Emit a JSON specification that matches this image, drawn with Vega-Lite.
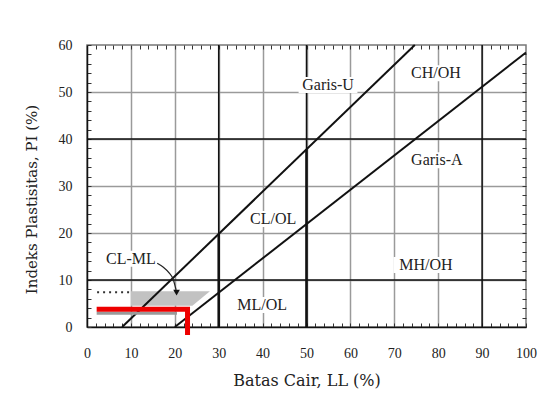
{
  "$schema": "https://vega.github.io/schema/vega-lite/v6.json",
  "width": 439,
  "height": 282,
  "autosize": {"type": "none"},
  "padding": {"left": 87, "top": 45, "right": 16, "bottom": 76},
  "background": "white",
  "config": {
    "view": {"stroke": "#777", "strokeWidth": 1.5},
    "axis": {"labelFont": "Liberation Serif", "labelFontSize": 14, "labelColor": "#222", "labelFlush": false, "titleFont": "DejaVu Serif", "titleColor": "#222", "titleFontWeight": "normal", "tickColor": "#333", "domainColor": "#111"}
  },
  "datasets": {
    "guides": [
      {"line": "Garis-U", "LL": 8, "PI": 0},
      {"line": "Garis-U", "LL": 74.67, "PI": 60},
      {"line": "Garis-A", "LL": 20, "PI": 0},
      {"line": "Garis-A", "LL": 100, "PI": 58.4}
    ],
    "blackV": [{"LL": 30}, {"LL": 50}, {"LL": 90}],
    "blackH": [{"PI": 10}, {"PI": 40}],
    "thick": [
      {"LL": 30, "PI0": 0, "PI1": 19.8},
      {"LL": 50, "PI0": 0, "PI1": 37.8}
    ],
    "shade": [
      {"PI": 4.5, "LLa": 10, "LLb": 24},
      {"PI": 7.6, "LLa": 10, "LLb": 28}
    ],
    "dotted": [{"LL0": 2.3, "LL1": 9.8, "PI": 7.4}],
    "shadow": [{"LL0": 2.2, "LL1": 20.5, "PI": 2.9}],
    "red": [
      {"step": 1, "LL": 2.2, "PI": 3.8},
      {"step": 2, "LL": 22.9, "PI": 3.8},
      {"step": 3, "LL": 22.9, "PI": -1.7}
    ],
    "leader": [
      {"LL": 16.0, "PI": 13.55},
      {"LL": 17.4, "PI": 12.7},
      {"LL": 18.8, "PI": 11.4},
      {"LL": 19.7, "PI": 10.0},
      {"LL": 20.1, "PI": 8.6},
      {"LL": 20.3, "PI": 7.9}
    ],
    "arrow": [{"LL": 20.4, "PI": 7.3}],
    "labels": [
      {"text": "Garis-U", "LL": 54.9, "PI": 51.5, "x0": 48.2, "x1": 61.6, "y0": 49.8, "y1": 53.2},
      {"text": "CH/OH", "LL": 79.5, "PI": 54, "x0": 72.5, "x1": 86.4, "y0": 52.3, "y1": 55.7},
      {"text": "Garis-A", "LL": 79.7, "PI": 35.5, "x0": 72.8, "x1": 86.7, "y0": 33.8, "y1": 37.2},
      {"text": "CL/OL", "LL": 42.4, "PI": 23, "x0": 36.4, "x1": 48.4, "y0": 21.3, "y1": 24.7},
      {"text": "ML/OL", "LL": 39.9, "PI": 4.7, "x0": 33, "x1": 46.8, "y0": 3, "y1": 6.4},
      {"text": "MH/OH", "LL": 77.2, "PI": 13.2, "x0": 69.8, "x1": 84.6, "y0": 11.5, "y1": 14.9},
      {"text": "CL-ML", "LL": 10, "PI": 14.5, "x0": 3.5, "x1": 16.5, "y0": 12.8, "y1": 16.2}
    ]
  },
  "resolve": {"axis": {"x": "independent", "y": "independent"}},
  "layer": [
    {
      "data": {"name": "thick"},
      "mark": {"type": "rule", "color": "#111", "strokeWidth": 2.5},
      "encoding": {
        "x": {"field": "LL", "type": "quantitative", "scale": {"domain": [0, 100], "nice": false},
          "axis": {"orient": "bottom", "title": "Batas Cair, LL (%)", "titleFontSize": 16, "titlePadding": 12,
            "values": [0,2,4,6,8,10,12,14,16,18,20,22,24,26,28,30,32,34,36,38,40,42,44,46,48,50,52,54,56,58,60,62,64,66,68,70,72,74,76,78,80,82,84,86,88,90,92,94,96,98,100],
            "labelExpr": "datum.value % 10 === 0 ? datum.label : ''",
            "tickSize": -4, "labelPadding": 23, "domainWidth": 1.5,
            "grid": true, "gridColor": "#9a9a9a", "gridWidth": 1.5,
            "gridOpacity": {"condition": {"test": "datum.value % 10 === 0 && datum.value > 0 && datum.value < 100", "value": 1}, "value": 0}}},
        "y": {"field": "PI0", "type": "quantitative", "scale": {"domain": [0, 60], "nice": false},
          "axis": {"orient": "left", "title": "Indeks Plastisitas, PI (%)", "titleFontSize": 15, "titlePadding": 19, "titleY": 154,
            "values": [0,2,4,6,8,10,12,14,16,18,20,22,24,26,28,30,32,34,36,38,40,42,44,46,48,50,52,54,56,58,60],
            "labelExpr": "datum.value % 10 === 0 ? datum.label : ''",
            "tickSize": -4, "labelPadding": 19, "domainWidth": 1.5,
            "grid": true, "gridColor": "#9a9a9a", "gridWidth": 1.5,
            "gridOpacity": {"condition": {"test": "datum.value % 10 === 0 && datum.value > 0 && datum.value < 60", "value": 1}, "value": 0}}},
        "y2": {"field": "PI1"}
      }
    },
    {
      "data": {"name": "blackV"},
      "mark": {"type": "rule", "color": "#111", "strokeWidth": 1.5},
      "encoding": {"x": {"field": "LL", "type": "quantitative", "axis": null}}
    },
    {
      "data": {"name": "blackH"},
      "mark": {"type": "rule", "color": "#111", "strokeWidth": 1.5},
      "encoding": {"y": {"field": "PI", "type": "quantitative", "axis": null}}
    },
    {
      "data": {"name": "shade"},
      "mark": {"type": "area", "orient": "horizontal", "color": "#c2c2c2"},
      "encoding": {
        "y": {"field": "PI", "type": "quantitative",
          "axis": {"orient": "right", "title": null, "labels": false, "grid": false, "domain": false, "tickSize": -4,
            "values": [2,4,6,8,10,12,14,16,18,20,22,24,26,28,30,32,34,36,38,40,42,44,46,48,50,52,54,56,58]}},
        "x": {"field": "LLa", "type": "quantitative",
          "axis": {"orient": "top", "title": null, "labels": false, "grid": false, "domain": false, "tickSize": -4,
            "values": [2,4,6,8,10,12,14,16,18,20,22,24,26,28,30,32,34,36,38,40,42,44,46,48,50,52,54,56,58,60,62,64,66,68,70,72,74,76,78,80,82,84,86,88,90,92,94,96,98]}},
        "x2": {"field": "LLb"}
      }
    },
    {
      "data": {"name": "dotted"},
      "mark": {"type": "rule", "color": "#333", "strokeWidth": 2, "strokeDash": [2, 4]},
      "encoding": {
        "x": {"field": "LL0", "type": "quantitative", "axis": null},
        "x2": {"field": "LL1"},
        "y": {"field": "PI", "type": "quantitative", "axis": null}
      }
    },
    {
      "data": {"name": "labels"},
      "mark": {"type": "rect", "color": "white"},
      "encoding": {
        "x": {"field": "x0", "type": "quantitative", "axis": null},
        "x2": {"field": "x1"},
        "y": {"field": "y0", "type": "quantitative", "axis": null},
        "y2": {"field": "y1"}
      }
    },
    {
      "data": {"name": "guides"},
      "mark": {"type": "line", "color": "#111", "strokeWidth": 2},
      "encoding": {
        "x": {"field": "LL", "type": "quantitative", "axis": null},
        "y": {"field": "PI", "type": "quantitative", "axis": null},
        "detail": {"field": "line"}
      }
    },
    {
      "data": {"name": "shadow"},
      "mark": {"type": "rule", "color": "#9a9a9a", "strokeWidth": 3},
      "encoding": {
        "x": {"field": "LL0", "type": "quantitative", "axis": null},
        "x2": {"field": "LL1"},
        "y": {"field": "PI", "type": "quantitative", "axis": null}
      }
    },
    {
      "data": {"name": "red"},
      "mark": {"type": "line", "color": "#ee0000", "strokeWidth": 5, "strokeJoin": "miter", "strokeCap": "butt"},
      "encoding": {
        "x": {"field": "LL", "type": "quantitative", "axis": null},
        "y": {"field": "PI", "type": "quantitative", "axis": null},
        "order": {"field": "step"}
      }
    },
    {
      "data": {"name": "leader"},
      "mark": {"type": "line", "color": "#222", "strokeWidth": 1.2, "interpolate": "monotone"},
      "encoding": {
        "x": {"field": "LL", "type": "quantitative", "axis": null},
        "y": {"field": "PI", "type": "quantitative", "axis": null}
      }
    },
    {
      "data": {"name": "arrow"},
      "mark": {"type": "point", "shape": "triangle-down", "filled": true, "color": "#111", "size": 45, "opacity": 1},
      "encoding": {
        "x": {"field": "LL", "type": "quantitative", "axis": null},
        "y": {"field": "PI", "type": "quantitative", "axis": null}
      }
    },
    {
      "data": {"name": "labels"},
      "mark": {"type": "text", "font": "Liberation Serif", "fontSize": 16, "color": "#222", "align": "center", "baseline": "middle"},
      "encoding": {
        "x": {"field": "LL", "type": "quantitative", "axis": null},
        "y": {"field": "PI", "type": "quantitative", "axis": null},
        "text": {"field": "text"}
      }
    }
  ]
}
